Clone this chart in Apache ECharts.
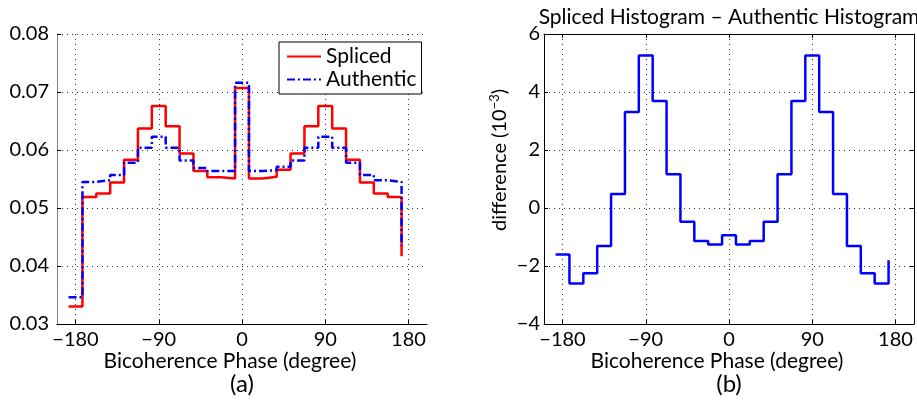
<!DOCTYPE html>
<html>
<head>
<meta charset="utf-8">
<script src="https://cdn.jsdelivr.net/npm/echarts@6/dist/echarts.min.js"></script>
<style>html,body{margin:0;padding:0;background:#fff;}#c{width:917px;height:407px;}</style>
</head>
<body>
<div id="c"></div>
<script>
// Step edges (degrees) of the histogram stairs
const phaseEdges = [-187.5, -172.5, -157.5, -142.5, -127.5, -112.5, -97.5, -82.5, -67.5, -52.5, -37.5, -22.5, -7.5,
  7.5, 22.5, 37.5, 52.5, 67.5, 82.5, 97.5, 112.5, 127.5, 142.5, 157.5, 172.5];
// (a) normalized histograms
const splicedHist = [0.0330, 0.0519, 0.0525, 0.0544, 0.0583, 0.0637, 0.0676, 0.0641, 0.0594, 0.0564, 0.0553, 0.0551, 0.0707,
  0.0551, 0.0554, 0.0566, 0.0594, 0.0641, 0.0676, 0.0637, 0.0583, 0.0544, 0.0525, 0.0519, 0.0417];
const authenticHist = [0.0346, 0.0545, 0.0548, 0.0557, 0.0578, 0.0604, 0.0623, 0.0604, 0.0582, 0.0569, 0.0564, 0.0564, 0.0716,
  0.0564, 0.0565, 0.0571, 0.0582, 0.0604, 0.0623, 0.0604, 0.0578, 0.0557, 0.0548, 0.0545, 0.0435];
// (b) difference, in units of 10^-3
const histDiff = [-1.6, -2.6, -2.25, -1.31, 0.48, 3.31, 5.26, 3.69, 1.16, -0.47, -1.14, -1.26, -0.94,
  -1.26, -1.14, -0.47, 1.16, 3.69, 5.26, 3.31, 0.48, -1.31, -2.25, -2.6, -1.8];
const phaseTicks = [-180, -90, 0, 90, 180];
const seriesNames = ['Spliced', 'Authentic'];
const panelLabels = ['(a)', '(b)'];
const xAxisTitle = 'Bicoherence Phase (degree)';
const diffTitle = 'Spliced Histogram \u2013 Authentic Histogram';

const FONT = 'Lato';
const toPairs = arr => phaseEdges.map((x, i) => [x, arr[i]]);
const minus = v => String(v).replace('-', '\u2212');
const dotted = { type: [1, 4], color: '#333', width: 1 };

function xAx(grid, opts) {
  return Object.assign({
    type: 'value', gridIndex: grid, min: -200, max: 200,
    axisLine: { show: true, onZero: false, lineStyle: { color: '#000', width: 1 } },
    axisTick: { show: true, inside: true, length: 4, customValues: phaseTicks, lineStyle: { color: '#000' } },
    axisLabel: { show: true, customValues: phaseTicks, formatter: minus, margin: 6,
      fontFamily: FONT, fontSize: 20, color: '#000' },
    splitLine: { show: true, lineStyle: dotted }
  }, opts || {});
}

const chart = echarts.init(document.getElementById('c'), null, { renderer: 'canvas' });
chart.setOption({
  animation: false,
  backgroundColor: '#fff',
  grid: [
    { left: 57, right: 490, top: 34, bottom: 83 },
    { left: 544, right: 3, top: 34, bottom: 83 }
  ],
  xAxis: [
    xAx(0),
    xAx(1),
    xAx(1, { position: 'top', axisLabel: { show: false }, splitLine: { show: false } })
  ],
  yAxis: [
    { type: 'value', gridIndex: 0, min: 0.03, max: 0.08, interval: 0.01,
      axisLine: { show: true, onZero: false, lineStyle: { color: '#808080', width: 1 } },
      axisTick: { show: true, inside: true, length: 4, lineStyle: { color: '#000' } },
      axisLabel: { formatter: v => v.toFixed(2), margin: 8, fontFamily: FONT, fontSize: 20, color: '#000' },
      splitLine: { show: true, lineStyle: dotted } },
    { type: 'value', gridIndex: 1, min: -4, max: 6, interval: 2,
      axisLine: { show: true, onZero: false, lineStyle: { color: '#000', width: 1 } },
      axisTick: { show: true, inside: true, length: 4, lineStyle: { color: '#000' } },
      axisLabel: { formatter: minus, margin: 4, fontFamily: FONT, fontSize: 20, color: '#000' },
      splitLine: { show: true, lineStyle: dotted } },
    { type: 'value', gridIndex: 1, min: -4, max: 6, interval: 2, position: 'right',
      axisLine: { show: true, onZero: false, lineStyle: { color: '#000', width: 1 } },
      axisTick: { show: true, inside: true, length: 4, lineStyle: { color: '#000' } },
      axisLabel: { show: false }, splitLine: { show: false } }
  ],
  legend: {
    data: seriesNames, orient: 'vertical', left: 279, top: 42,
    backgroundColor: '#fff', borderColor: '#000', borderWidth: 1, borderRadius: 0,
    padding: [4, 5, 4, 7], itemGap: 2, itemWidth: 34, itemHeight: 1,
    itemStyle: { opacity: 0, borderWidth: 0 },
    textStyle: { fontFamily: FONT, fontSize: 21, color: '#000' }
  },
  series: [
    { name: seriesNames[0], type: 'line', xAxisIndex: 0, yAxisIndex: 0, step: 'end', symbol: 'none',
      lineStyle: { color: '#ff0000', width: 2.5 }, itemStyle: { color: '#ff0000' }, data: toPairs(splicedHist) },
    { name: seriesNames[1], type: 'line', xAxisIndex: 0, yAxisIndex: 0, step: 'end', symbol: 'none',
      lineStyle: { color: '#0000ff', width: 2.5, type: [8, 3, 2, 3] }, itemStyle: { color: '#0000ff' }, data: toPairs(authenticHist) },
    { name: 'difference', type: 'line', xAxisIndex: 1, yAxisIndex: 1, step: 'end', symbol: 'none',
      lineStyle: { color: '#0000ff', width: 2.5 }, itemStyle: { color: '#0000ff' }, data: toPairs(histDiff) }
  ],
  graphic: [
    { type: 'text', x: 729, y: 17, style: { text: diffTitle, align: 'center', verticalAlign: 'middle',
      fontFamily: FONT, fontSize: 21, fill: '#000' } },
    { type: 'text', x: 230, y: 361, style: { text: xAxisTitle, align: 'center', verticalAlign: 'middle',
      fontFamily: FONT, fontSize: 21, fill: '#000' } },
    { type: 'text', x: 717, y: 361, style: { text: xAxisTitle, align: 'center', verticalAlign: 'middle',
      fontFamily: FONT, fontSize: 21, fill: '#000' } },
    { type: 'text', x: 242, y: 384, style: { text: panelLabels[0], align: 'center', verticalAlign: 'middle',
      fontFamily: FONT, fontSize: 24, fill: '#000' } },
    { type: 'text', x: 729, y: 384, style: { text: panelLabels[1], align: 'center', verticalAlign: 'middle',
      fontFamily: FONT, fontSize: 24, fill: '#000' } },
    { type: 'text', x: 500, y: 160, rotation: Math.PI / 2,
      style: { text: 'difference (10{sup|\u22123})', align: 'center', verticalAlign: 'middle',
        fontFamily: FONT, fontSize: 20, fill: '#000',
        rich: { sup: { fontFamily: FONT, fontSize: 13, fill: '#000', verticalAlign: 'top', padding: [0, 0, 10, 0] } } } }
  ]
});
</script>
</body>
</html>
